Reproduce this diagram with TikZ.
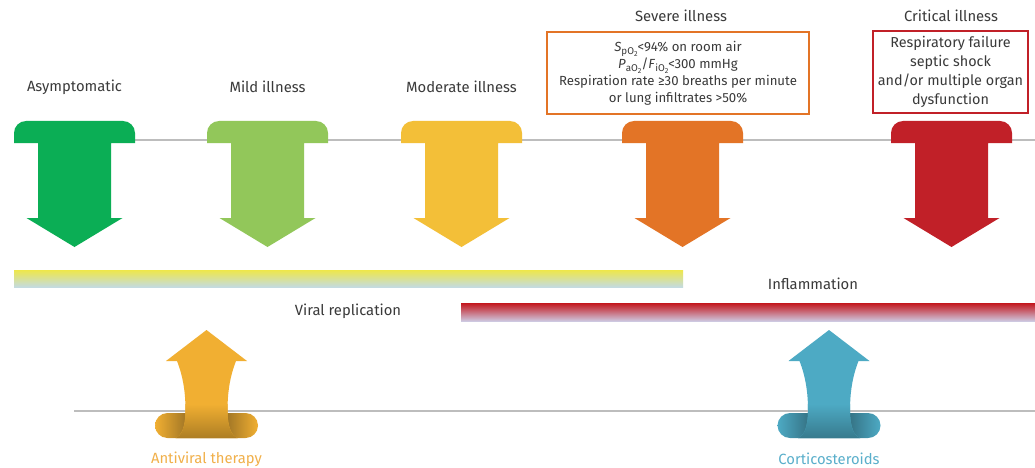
\documentclass[tikz,border=0pt]{standalone}
\usepackage{fontspec}
\setmainfont{Fira Sans}
\definecolor{cgreen}{HTML}{0BAE55}
\definecolor{clgreen}{HTML}{92C75A}
\definecolor{cyellow}{HTML}{F3BF38}
\definecolor{corange}{HTML}{E37426}
\definecolor{cred}{HTML}{C12028}
\definecolor{cav}{HTML}{F1AF32}
\definecolor{cavdark}{HTML}{6E521E}
\definecolor{cavtext}{HTML}{F1B04A}
\definecolor{ccs}{HTML}{4DAAC4}
\definecolor{ccsdark}{HTML}{264F5C}
\definecolor{ccstext}{HTML}{5AAFCB}
\definecolor{ctext}{HTML}{3A3A3A}
\definecolor{cline}{HTML}{BDBDBD}
\definecolor{ytop}{HTML}{EEE74A}
\definecolor{ybot}{HTML}{C4DBE0}
\definecolor{rtop}{HTML}{C3161C}
\definecolor{rbot}{HTML}{CEC8E0}
\newcommand\DownArr[2]{%
  \fill[#2] ({#1-60.5},143) [rounded corners=12]-- ({#1-60.5},121) -- ({#1+60.5},121) [sharp corners]-- ({#1+60.5},143)
    -- ({#1+36.5},143) -- ({#1+36.5},218) -- ({#1+48},218) -- (#1,247) -- ({#1-48},218) -- ({#1-36.5},218) -- ({#1-36.5},143) -- cycle;}
\newcommand\UpArr[3]{%
  \shade[left color=#2, right color=#2, middle color=#3, rounded corners=12.5] ({#1-51.5},413) rectangle ({#1+51.5},438);
  \fill[#2] (#1,330) -- ({#1+40.5},361) -- ({#1+29.5},361) .. controls ({#1+22},380) and ({#1+21},398) .. ({#1+21},411)
    .. controls ({#1+21},427) and ({#1+25},436) .. ({#1+31},438) -- ({#1-31},438)
    .. controls ({#1-25},436) and ({#1-21},427) .. ({#1-21},411) .. controls ({#1-21},398) and ({#1-22},380) .. ({#1-29.5},361)
    -- ({#1-40.5},361) -- cycle;
  \shade[top color=#2, bottom color=#2!72!black] ({#1-21.1},404) -- ({#1-21},411)
    .. controls ({#1-21},427) and ({#1-25},436) .. ({#1-31},438) -- ({#1+31},438)
    .. controls ({#1+25},436) and ({#1+21},427) .. ({#1+21},411) -- ({#1+21.1},404) -- cycle;}
\newcommand\SubO[1]{\raisebox{-0.45ex}{\fontsize{9.8}{9.8}\selectfont #1O\raisebox{-0.35ex}{\fontsize{7.2}{7.2}\selectfont 2}}}
\tikzset{
  lbl/.style={text=ctext, font=\fontsize{14.8}{17}\selectfont, inner sep=0pt},
  infobox/.style={draw=#1, line width=1.2pt, fill=white, text=ctext, align=center,
    font=\fontsize{13.2}{17}\selectfont, inner sep=2pt},
  grayline/.style={draw=cline, line width=2pt}
}
\begin{document}
\begin{tikzpicture}[x=1pt,y=-1pt]
\useasboundingbox[fill=white] (0,0) rectangle (1035,468);
% top timeline
\coordinate (tl1) at (14,140);
\coordinate (tl2) at (1035,140);
\draw[grayline] (tl1) -- (tl2);
\DownArr{74.5}{cgreen}
\DownArr{267.5}{clgreen}
\DownArr{461.5}{cyellow}
\DownArr{682.5}{corange}
\DownArr{951.5}{cred}
\node[lbl] (asym) at (74.5,87) {Asymptomatic};
\node[lbl] (mild) at (267.5,87) {Mild illness};
\node[lbl] (mod) at (461.5,87) {Moderate illness};
\node[lbl] (sev) at (681,16) {Severe illness};
\node[lbl] (crit) at (951,16) {Critical illness};
\node[infobox=corange, minimum width=262, minimum height=82] (sevbox) at (678,73)
  {\textit{S}\SubO{p}<94\% on room air\\
   \textit{P}\SubO{a}/\textit{F}\SubO{i}<300 mmHg\\
   Respiration rate ≥30 breaths per minute\\
   or lung infiltrates >50\%};
\node[infobox=cred, minimum width=155, minimum height=82, font=\fontsize{14.4}{19}\selectfont] (critbox) at (950.5,72)
  {Respiratory failure\\ septic shock\\ and/or multiple organ\\ dysfunction};
% bars
\shade[top color=ytop, bottom color=ybot] (14,270) rectangle (683,287);
\shade[top color=rtop, bottom color=rbot] (461,303) rectangle (1035,321);
\node[lbl] (viral) at (348,311) {Viral replication};
\node[lbl] (infl) at (813,284) {Inflammation};
% bottom line and therapies
\coordinate (bl1) at (74,411);
\coordinate (bl2) at (1035,411);
\draw[grayline] (bl1) -- (bl2);
\UpArr{206.5}{cav}{cavdark}
\UpArr{829}{ccs}{ccsdark}
\node[lbl, text=cavtext] (av) at (206.5,459) {Antiviral therapy};
\node[lbl, text=ccstext] (cs) at (829,459) {Corticosteroids};
\end{tikzpicture}
\end{document}
